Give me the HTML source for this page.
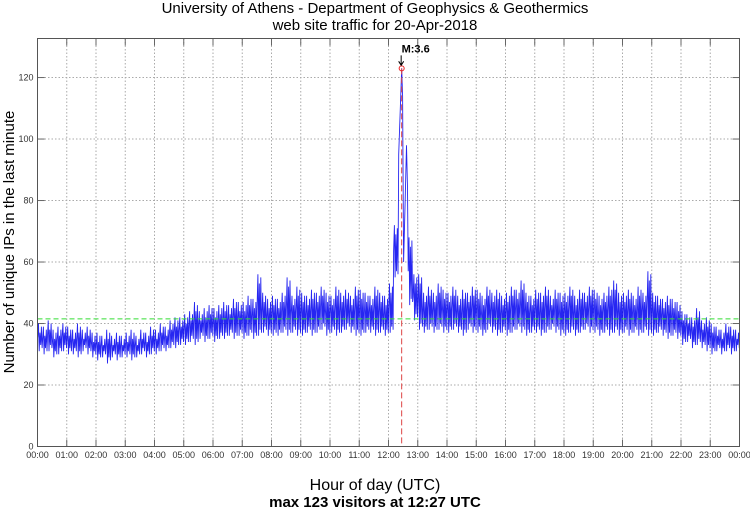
<!DOCTYPE html>
<html><head><meta charset="utf-8"><style>
body{margin:0;background:#fff;width:750px;height:511px;overflow:hidden;font-family:"Liberation Sans",sans-serif}
</style></head><body>
<svg id="chart" width="750" height="511" xmlns="http://www.w3.org/2000/svg" font-family="Liberation Sans, sans-serif">
<text x="375" y="13" text-anchor="middle" font-size="15">University of Athens - Department of Geophysics &amp; Geothermics</text>
<text x="375" y="30" text-anchor="middle" font-size="15">web site traffic for 20-Apr-2018</text>
<text transform="translate(14,242) rotate(-90)" text-anchor="middle" font-size="15">Number of unique IPs in the last minute</text>
<text x="375" y="490" text-anchor="middle" font-size="16">Hour of day (UTC)</text>
<text x="375" y="507" text-anchor="middle" font-size="15" font-weight="bold">max 123 visitors at 12:27 UTC</text>
<g id="grid"></g><g id="ticks"></g><g id="series"></g><g id="marks"></g>
<rect x="37.5" y="38.5" width="702" height="408" fill="none" stroke="#555" stroke-width="1"/>
</svg>
<script>
const hourLabels=["00:00","01:00","02:00","03:00","04:00","05:00","06:00","07:00","08:00","09:00","10:00","11:00","12:00","13:00","14:00","15:00","16:00","17:00","18:00","19:00","20:00","21:00","22:00","23:00","00:00"];
const yTicks=[0,20,40,60,80,100,120];
const binLows=[31,30,31,29,30,31, 30,30,29,31,30,29, 28,29,27,29,28,29, 29,28,29,30,29,30, 30,31,31,32,32,33, 33,34,33,35,34,35, 34,35,35,36,35,36, 35,36,35,36,37,36, 36,36,37,36,37,36, 36,37,36,37,38,36, 37,36,37,38,37,36, 36,37,37,36,37,36, 37,55,95,60,46,41, 38,37,38,37,38,37, 37,38,37,36,38,37, 37,36,38,37,36,37, 36,37,38,37,36,37, 37,36,37,38,37,36, 36,37,36,37,38,37, 37,36,37,36,37,36, 37,36,37,36,37,36, 36,37,36,35,36,35, 33,34,32,33,32,31, 30,31,30,31,30,31];
const binHighs=[40,39,41,38,39,40, 39,38,40,38,39,37, 37,36,38,36,37,36, 37,38,36,38,37,39, 38,40,39,41,42,42, 43,44,47,44,45,46, 45,46,47,46,48,47, 47,49,48,56,50,48, 49,48,50,55,49,52, 50,49,51,50,52,50, 49,52,50,51,49,52, 51,50,49,52,50,49, 53,72,123,98,68,56, 56,50,52,50,53,51, 50,52,49,51,50,52, 51,49,52,50,51,49, 50,52,51,54,50,49, 51,50,52,49,51,50, 50,52,49,51,50,52, 51,49,50,52,54,50, 50,51,49,52,50,57, 50,49,48,49,48,47, 44,43,42,45,41,42, 40,39,38,40,39,38];
const avgLevel=41.5, peakValue=123, peakMinute=12*60+27, peakLabel="M:3.6";
const X0=37.5,X1=739.5,Y0=446.5,YT=38.5,YMAX=132.7;
const xs=m=>X0+(X1-X0)*m/1440, ys=v=>Y0-(Y0-YT)*v/YMAX;
const NS="http://www.w3.org/2000/svg";
function mk(tag,attrs,parent){const e=document.createElementNS(NS,tag);for(const k in attrs)e.setAttribute(k,attrs[k]);document.getElementById(parent).appendChild(e);return e;}
hourLabels.forEach((l,i)=>{const x=xs(i*60);
 if(i>0&&i<24){const g=mk('line',{x1:x,x2:x,y1:YT,y2:Y0,stroke:'#aaa','stroke-dasharray':'1.5,2','stroke-width':1},'grid');
 
 
 mk('line',{x1:x,x2:x,y1:Y0,y2:Y0-7,stroke:'#666'},'ticks');mk('line',{x1:x,x2:x,y1:YT,y2:YT+7,stroke:'#666'},'ticks');}
 const t=mk('text',{x:x,y:458,'text-anchor':'middle','font-size':9,fill:'#333'},'ticks');t.textContent=l;
 
 
});
yTicks.forEach(v=>{const y=ys(v);
 if(v>0){const g=mk('line',{x1:X0,x2:X1,y1:y,y2:y,stroke:'#aaa','stroke-dasharray':'1.5,2'},'grid');
 
 
 mk('line',{x1:X0,x2:X0+7,y1:y,y2:y,stroke:'#666'},'ticks');mk('line',{x1:X1,x2:X1-7,y1:y,y2:y,stroke:'#666'},'ticks');}
 const t=mk('text',{x:X0-4,y:y+3,'text-anchor':'end','font-size':9,fill:'#333'},'ticks');t.textContent=v;
 
 
});
let pts=[];
binLows.forEach((lo,i)=>{const hi=binHighs[i],t=i*10;
 if(hi-lo>25){pts.push([t+1,lo],[t+4,(lo+hi)/2],[t+7,hi],[t+9,(lo+hi)/2+5]);return;}
 pts.push([t+0.5,(lo+hi)/2],[t+2,hi],[t+3.5,lo],[t+5,hi-3],[t+6.5,lo+2],[t+8,hi-1],[t+9.5,lo+1]);});
const line=mk('polyline',{points:pts.map(p=>xs(p[0]).toFixed(1)+','+ys(p[1]).toFixed(1)).join(' '),fill:'none',stroke:'#0000ee','stroke-width':0.9,'stroke-opacity':0.85},'series');


const avg=mk('line',{x1:X0,x2:X1,y1:ys(avgLevel),y2:ys(avgLevel),stroke:'#33dd33','stroke-dasharray':'5,3','stroke-width':1},'marks');


const px=xs(peakMinute),py=ys(peakValue);
const vl=mk('line',{x1:px,x2:px,y1:py,y2:Y0,stroke:'#dd4444','stroke-dasharray':'6,3','stroke-width':1},'marks');


const c=mk('circle',{cx:px,cy:py,r:2.5,fill:'none',stroke:'#ee2222','stroke-width':1},'marks');


const ar=mk('path',{d:`M${px-0.5},${py-13}V${py-3}M${px-3},${py-7}L${px-0.5},${py-3}L${px+2},${py-7}`,stroke:'#000',fill:'none','stroke-width':1},'marks');


const lb=mk('text',{x:px+14,y:py-16,'text-anchor':'middle','font-size':11,'font-weight':'bold'},'marks');lb.textContent=peakLabel;


</script>
</body></html>
